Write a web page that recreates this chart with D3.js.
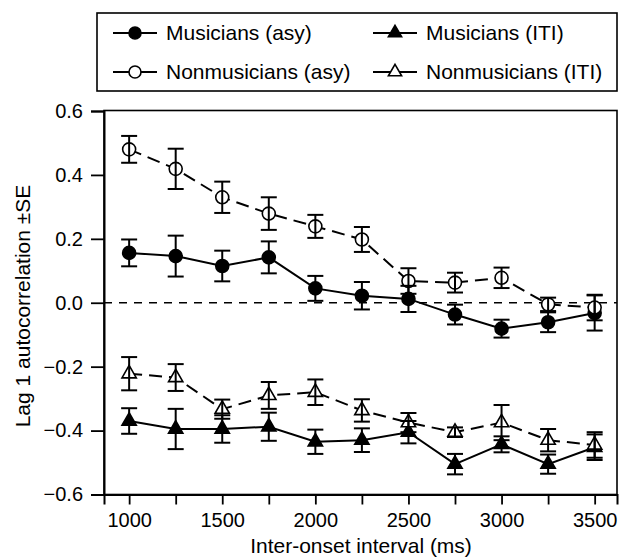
<!DOCTYPE html>
<html>
<head>
<meta charset="utf-8">
<script src="https://cdn.jsdelivr.net/npm/d3@7"></script>
<style>
  body { margin: 0; background: #fff; }
  svg text { font-family: "Liberation Sans", Arial, Helvetica, sans-serif; fill: #000; }
</style>
</head>
<body>
<svg id="chart" width="619" height="559"></svg>
<script>
// inter-onset intervals (ms)
var ioi = [1000, 1250, 1500, 1750, 2000, 2250, 2500, 2750, 3000, 3250, 3500];

// lag 1 autocorrelations and their SE
var musAsy     = [0.156, 0.146, 0.115, 0.142, 0.045, 0.022, 0.012, -0.037, -0.081, -0.061, -0.032];
var musAsySE   = [0.042, 0.064, 0.048, 0.050, 0.039, 0.043, 0.041, 0.031, 0.028, 0.031, 0.055];
var nonAsy     = [0.480, 0.419, 0.330, 0.279, 0.239, 0.198, 0.068, 0.063, 0.078, -0.005, -0.015];
var nonAsySE   = [0.042, 0.063, 0.049, 0.051, 0.036, 0.039, 0.040, 0.031, 0.032, 0.021, 0.040];
var musIti     = [-0.370, -0.395, -0.395, -0.388, -0.435, -0.430, -0.405, -0.505, -0.443, -0.505, -0.452];
var musItiSE   = [0.040, 0.063, 0.043, 0.044, 0.038, 0.037, 0.035, 0.032, 0.025, 0.030, 0.040];
var nonIti     = [-0.222, -0.234, -0.333, -0.290, -0.280, -0.337, -0.375, -0.405, -0.375, -0.430, -0.445];
var nonItiSE   = [0.052, 0.042, 0.030, 0.042, 0.040, 0.035, 0.030, 0.015, 0.055, 0.035, 0.040];

var yTicks = [0.6, 0.4, 0.2, 0.0, -0.2, -0.4, -0.6];
var xTicks = [1000, 1250, 1500, 1750, 2000, 2250, 2500, 2750, 3000, 3250, 3500];
var xTickLabels = [1000, 1500, 2000, 2500, 3000, 3500];

var series = [
  { name: "Musicians (asy)",    vals: musAsy, se: musAsySE, shape: "circle",   filled: true,  dashed: false },
  { name: "Nonmusicians (asy)", vals: nonAsy, se: nonAsySE, shape: "circle",   filled: false, dashed: true },
  { name: "Musicians (ITI)",    vals: musIti, se: musItiSE, shape: "triangle", filled: true,  dashed: false },
  { name: "Nonmusicians (ITI)", vals: nonIti, se: nonItiSE, shape: "triangle", filled: false, dashed: true }
];

var svg = d3.select("#chart");
var plot = { left: 104, right: 617, top: 110.5, bottom: 494.5 };

var x = d3.scaleLinear().domain([865, 3620]).range([plot.left, plot.right]);
var y = d3.scaleLinear().domain([-0.6, 0.6]).range([plot.bottom, plot.top + 0.5]);

function marker(sel, s, r) {
  if (s.shape === "circle") {
    sel.append("circle").attr("r", r);
  } else {
    sel.append("path").attr("d", d3.symbol().type(d3.symbolTriangle).size(r * r * 2.1)());
  }
  sel.attr("fill", s.filled ? "#000" : "#fff")
     .attr("stroke", "#000").attr("stroke-width", 1.6);
}

// frame
svg.append("rect")
  .attr("x", plot.left).attr("y", plot.top)
  .attr("width", plot.right - plot.left).attr("height", plot.bottom - plot.top)
  .attr("fill", "none").attr("stroke", "#000").attr("stroke-width", 1.6);

// zero reference
svg.append("line")
  .attr("x1", plot.left).attr("x2", plot.right)
  .attr("y1", y(0)).attr("y2", y(0))
  .attr("stroke", "#000").attr("stroke-width", 1.5).attr("stroke-dasharray", "8,7");

// axes
var yAxis = svg.append("g")
  .attr("transform", "translate(" + plot.left + ",0)")
  .call(d3.axisLeft(y).tickValues(yTicks).tickSize(13).tickPadding(8)
        .tickFormat(d3.format(".1f")));
var xAxis = svg.append("g")
  .attr("transform", "translate(0," + plot.bottom + ")")
  .call(d3.axisBottom(x).tickValues(xTicks).tickSize(10).tickPadding(8)
        .tickFormat(function(d) { return xTickLabels.indexOf(d) >= 0 ? d : ""; }));

[yAxis, xAxis].forEach(function(ax) {
  ax.select(".domain").attr("stroke-width", 2);
  ax.selectAll(".tick line").attr("stroke-width", 1.8);
  ax.selectAll("text").attr("font-size", 20).attr("font-family", null);
  ax.attr("font-family", null);
});

// axis titles
svg.append("text")
  .attr("x", 361).attr("y", 553)
  .attr("text-anchor", "middle").attr("font-size", 21)
  .text("Inter-onset interval (ms)");
svg.append("text")
  .attr("transform", "translate(30,306) rotate(-90)")
  .attr("text-anchor", "middle").attr("font-size", 21)
  .text("Lag 1 autocorrelation \u00b1SE");

// series lines
var line = d3.line()
  .x(function(d, i) { return x(ioi[i]); })
  .y(function(d) { return y(d); });

series.forEach(function(s) {
  svg.append("path")
    .datum(s.vals)
    .attr("d", line)
    .attr("fill", "none").attr("stroke", "#000").attr("stroke-width", 2)
    .attr("stroke-dasharray", s.dashed ? "13,7" : null);
});

// markers, then error bars on top
series.forEach(function(s) {
  var g = svg.append("g");
  s.vals.forEach(function(v, i) {
    var m = g.append("g").attr("transform", "translate(" + x(ioi[i]) + "," + y(v) + ")");
    marker(m, s, 6.5);
  });
});

series.forEach(function(s) {
  var g = svg.append("g").attr("stroke", "#000").attr("stroke-width", 2);
  s.vals.forEach(function(v, i) {
    var cx = x(ioi[i]), hi = y(v + s.se[i]), lo = y(v - s.se[i]);
    g.append("line").attr("x1", cx).attr("x2", cx).attr("y1", hi).attr("y2", lo);
    g.append("line").attr("x1", cx - 8).attr("x2", cx + 8).attr("y1", hi).attr("y2", hi);
    g.append("line").attr("x1", cx - 8).attr("x2", cx + 8).attr("y1", lo).attr("y2", lo);
  });
});

// legend
var legend = svg.append("g");
legend.append("rect")
  .attr("x", 97).attr("y", 13).attr("width", 520).attr("height", 78)
  .attr("fill", "#fff").attr("stroke", "#000").attr("stroke-width", 1.6);

var legendPos = [
  { lx: 113, ty: 33 }, { lx: 113, ty: 72 },
  { lx: 373, ty: 33 }, { lx: 373, ty: 72 }
];

series.forEach(function(s, i) {
  var p = legendPos[i];
  legend.append("line")
    .attr("x1", p.lx).attr("x2", p.lx + 44)
    .attr("y1", p.ty).attr("y2", p.ty)
    .attr("stroke", "#000").attr("stroke-width", 2);
  var m = legend.append("g").attr("transform", "translate(" + (p.lx + 22) + "," + p.ty + ")");
  marker(m, s, 6);
  legend.append("text")
    .attr("x", p.lx + 53).attr("y", p.ty + 7)
    .attr("font-size", 21)
    .text(s.name);
});
</script>
</body>
</html>
